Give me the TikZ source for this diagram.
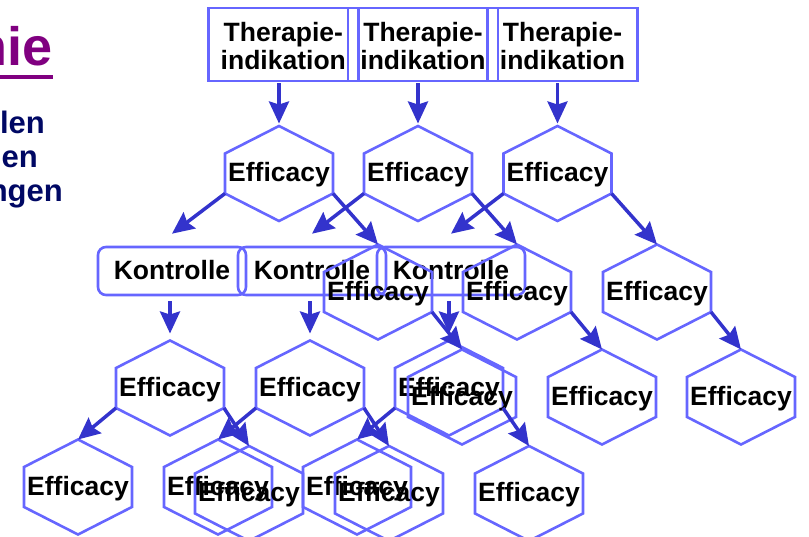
\documentclass[tikz,border=0pt]{standalone}
\usepackage{fontspec}
\setmainfont{Liberation Sans}
\usetikzlibrary{arrows.meta,calc}
\definecolor{hexblue}{RGB}{102,102,255}
\definecolor{arrblue}{RGB}{51,51,204}
\definecolor{titlepurple}{RGB}{128,0,128}
\definecolor{navytext}{RGB}{0,8,100}
\newcommand{\effhex}[3]{%
  \coordinate (#1-c) at (#2,#3);
  \node[hextxt] (#1) at (#1-c) {Efficacy};
  \draw[hexline] ([shift={(0,-47.5)}]#1-c) -- ++(54,27.5) -- ++(0,40) -- ++(-54,27.5) -- ++(-54,-27.5) -- ++(0,-40) -- cycle;
  \coordinate (#1-t) at ([shift={(0,-47.5)}]#1-c);
  \coordinate (#1-l) at ([shift={(-54,20)}]#1-c);
  \coordinate (#1-r) at ([shift={(54,20)}]#1-c);
}
\begin{document}
\begin{tikzpicture}[x=1pt,y=-1pt,
  hextxt/.style={inner sep=0pt, yshift=-1.5pt, font=\fontsize{26.5}{28}\selectfont\bfseries, text=black},
  hexline/.style={draw=hexblue, line width=2.6pt, line join=miter},
  therbox/.style={draw=hexblue, line width=2.6pt, minimum width=150pt, minimum height=73pt, inner sep=0pt},
  thertxt/.style={inner sep=0pt, yshift=-1.5pt, align=center, font=\fontsize{26.5}{28}\selectfont\bfseries},
  kbox/.style={draw=hexblue, line width=2.6pt, rounded corners=8pt, minimum width=148pt, minimum height=48pt, inner sep=0pt, text depth=3pt, font=\fontsize{26.5}{28}\selectfont\bfseries},
  arr/.style={draw=arrblue, line width=3.5pt, -{Stealth[length=22pt,width=20pt,inset=3pt]}},
  sidetxt/.style={anchor=base east, inner sep=0pt, text=navytext, font=\fontsize{31}{31}\selectfont\bfseries}
]
\useasboundingbox (0,0) rectangle (809,537);
\clip (0,0) rectangle (809,537);

% title fragment and side texts
\node[anchor=base east, inner sep=0pt, text=titlepurple, font=\fontsize{54}{54}\selectfont\bfseries] (title) at (53,66) {nie};
\draw[titlepurple, line width=4pt] (title.west |- 0,77) -- (title.east |- 0,77);
\node[sidetxt] (s1) at (45,134) {len};
\node[sidetxt] (s2) at (38,168) {en};
\node[sidetxt] (s3) at (63,202) {ngen};

% Therapie boxes
\node[therbox] (T1) at (283.3,44.5) {};
\node[therbox] (T2) at (423,44.5) {};
\node[therbox] (T3) at (562.5,44.5) {};
\node[thertxt] (T1t) at (T1) {Therapie-\\indikation};
\node[thertxt] (T2t) at (T2) {Therapie-\\indikation};
\node[thertxt] (T3t) at (T3) {Therapie-\\indikation};

% Kontrolle boxes
\node[kbox] (K1) at (172,271) {Kontrolle};
\node[kbox] (K2) at (312,271) {Kontrolle};
\node[kbox] (K3) at (451,271) {Kontrolle};

% hexagons
\effhex{A1}{279}{173.5}
\effhex{A2}{418}{173.5}
\effhex{A3}{557.5}{173.5}
\effhex{C1}{378}{292}
\effhex{C2}{517}{292}
\effhex{C3}{657}{292}
\effhex{D1}{170}{388}
\effhex{D2}{310}{388}
\effhex{D3}{449}{388}
\effhex{E1}{462}{397}
\effhex{E2}{602}{397}
\effhex{E3}{741}{397}
\effhex{F1}{78}{487}
\effhex{F2}{218}{487}
\effhex{F3}{357}{487}
\effhex{G1}{249}{493.5}
\effhex{G2}{389}{493.5}
\effhex{G3}{529}{493.5}

% arrows boxes -> top hexagons
\draw[arr, shorten >=2.5pt] ([yshift=-1pt]T1.south -| A1-t) -- (A1-t);
\draw[arr, shorten >=2.5pt] ([yshift=-1pt]T2.south -| A2-t) -- (A2-t);
\draw[arr, shorten >=2.5pt] ([yshift=-1pt]T3.south -| A3-t) -- (A3-t);

% top hexagons -> Kontrolle / Efficacy
\draw[arr] (A1-l) -- ([yshift=12pt]K1.north);
\draw[arr] (A2-l) -- ([yshift=12pt]K2.north);
\draw[arr] (A3-l) -- ([yshift=12pt]K3.north);
\draw[arr] (A1-r) -- (C1-t);
\draw[arr] (A2-r) -- (C2-t);
\draw[arr] (A3-r) -- (C3-t);

% Kontrolle -> Efficacy
\draw[arr] ([yshift=-5pt]K1.south -| D1-t) -- ([yshift=7pt]D1-t);
\draw[arr] ([yshift=-5pt]K2.south -| D2-t) -- ([yshift=7pt]D2-t);
\draw[arr] ([yshift=-5pt]K3.south -| D3-t) -- ([yshift=7pt]D3-t);

% second level
\draw[arr] (C1-r) -- (E1-t);
\draw[arr] (C2-r) -- (E2-t);
\draw[arr] (C3-r) -- (E3-t);
\draw[arr] (D1-l) -- (F1-t);
\draw[arr] (D1-r) -- (G1-t);
\draw[arr] (D2-l) -- (F2-t);
\draw[arr] (D2-r) -- (G2-t);
\draw[arr] (D3-l) -- (F3-t);
\draw[arr] (D3-r) -- (G3-t);
\end{tikzpicture}
\end{document}
